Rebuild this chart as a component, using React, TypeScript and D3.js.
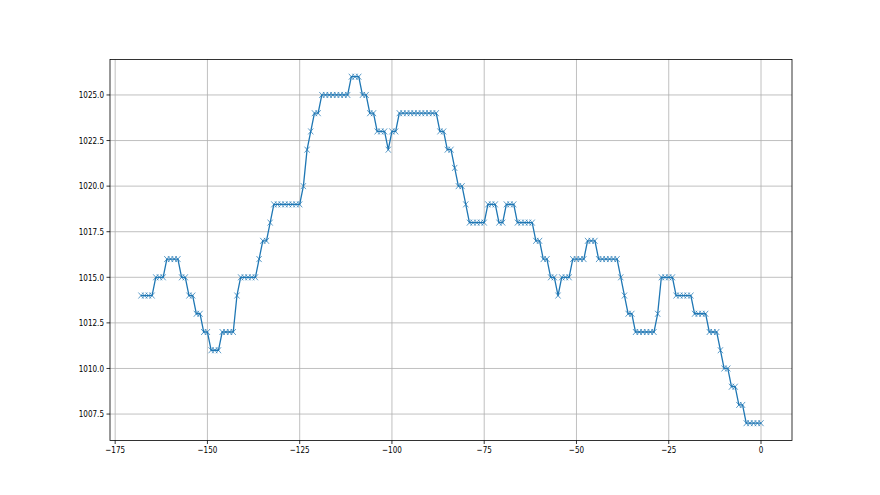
import React from 'react';
import * as d3 from 'd3';

// minutes offset (x) and pressure reading (y)
const xValues = [
  -168, -167, -166, -165, -164, -163, -162, -161, -160, -159, -158, -157, -156, -155, -154, -153, -152,
  -151, -150, -149, -148, -147, -146, -145, -144, -143, -142, -141, -140, -139, -138, -137, -136, -135,
  -134, -133, -132, -131, -130, -129, -128, -127, -126, -125, -124, -123, -122, -121, -120, -119, -118,
  -117, -116, -115, -114, -113, -112, -111, -110, -109, -108, -107, -106, -105, -104, -103, -102, -101,
  -100, -99, -98, -97, -96, -95, -94, -93, -92, -91, -90, -89, -88, -87, -86, -85, -84, -83, -82, -81,
  -80, -79, -78, -77, -76, -75, -74, -73, -72, -71, -70, -69, -68, -67, -66, -65, -64, -63, -62, -61,
  -60, -59, -58, -57, -56, -55, -54, -53, -52, -51, -50, -49, -48, -47, -46, -45, -44, -43, -42, -41,
  -40, -39, -38, -37, -36, -35, -34, -33, -32, -31, -30, -29, -28, -27, -26, -25, -24, -23, -22, -21,
  -20, -19, -18, -17, -16, -15, -14, -13, -12, -11, -10, -9, -8, -7, -6, -5, -4, -3, -2, -1, 0,
];

const yValues = [
  1014, 1014, 1014, 1014, 1015, 1015, 1015, 1016, 1016, 1016, 1016, 1015, 1015, 1014, 1014, 1013, 1013,
  1012, 1012, 1011, 1011, 1011, 1012, 1012, 1012, 1012, 1014, 1015, 1015, 1015, 1015, 1015, 1016, 1017,
  1017, 1018, 1019, 1019, 1019, 1019, 1019, 1019, 1019, 1019, 1020, 1022, 1023, 1024, 1024, 1025, 1025,
  1025, 1025, 1025, 1025, 1025, 1025, 1026, 1026, 1026, 1025, 1025, 1024, 1024, 1023, 1023, 1023, 1022,
  1023, 1023, 1024, 1024, 1024, 1024, 1024, 1024, 1024, 1024, 1024, 1024, 1024, 1023, 1023, 1022, 1022,
  1021, 1020, 1020, 1019, 1018, 1018, 1018, 1018, 1018, 1019, 1019, 1019, 1018, 1018, 1019, 1019, 1019,
  1018, 1018, 1018, 1018, 1018, 1017, 1017, 1016, 1016, 1015, 1015, 1014, 1015, 1015, 1015, 1016, 1016,
  1016, 1016, 1017, 1017, 1017, 1016, 1016, 1016, 1016, 1016, 1016, 1015, 1014, 1013, 1013, 1012, 1012,
  1012, 1012, 1012, 1012, 1013, 1015, 1015, 1015, 1015, 1014, 1014, 1014, 1014, 1014, 1013, 1013, 1013,
  1013, 1012, 1012, 1012, 1011, 1010, 1010, 1009, 1009, 1008, 1008, 1007, 1007, 1007, 1007, 1007,
];

const xTicks = [-175, -150, -125, -100, -75, -50, -25, 0];
const yTicks = [1007.5, 1010, 1012.5, 1015, 1017.5, 1020, 1022.5, 1025];

const W = 880;
const H = 495;
const plot = { left: 110, right: 792, top: 59.4, bottom: 440.5 };
const LINE = '#1f77b4';
// the picture is squeezed sideways, so the tick text is narrower than it is tall
const squeeze = 0.76;

const fmtX = (v: number) => (v < 0 ? '\u2212' + Math.abs(v) : String(v));

export default function App() {
  const x = d3.scaleLinear().domain([-176.4, 8.4]).range([plot.left, plot.right]);
  const y = d3.scaleLinear().domain([1006.05, 1026.95]).range([plot.bottom, plot.top]);

  const pts = xValues.map((v, i) => [v, yValues[i]] as [number, number]);
  const line = d3
    .line<[number, number]>()
    .x(d => x(d[0]))
    .y(d => y(d[1]));

  const font = '"DejaVu Sans", sans-serif';

  return (
    <svg
      width={W}
      height={H}
      style={{ position: 'absolute', left: 0, top: 0, background: '#fff' }}
      fontFamily={font}
    >
      <rect x={0} y={0} width={W} height={H} fill="#fff" />

      {/* grid */}
      {xTicks.map(t => (
        <line key={'gx' + t} x1={x(t)} x2={x(t)} y1={plot.top} y2={plot.bottom} stroke="#b0b0b0" strokeWidth={0.8} />
      ))}
      {yTicks.map(t => (
        <line key={'gy' + t} x1={plot.left} x2={plot.right} y1={y(t)} y2={y(t)} stroke="#b0b0b0" strokeWidth={0.8} />
      ))}

      {/* series */}
      <path d={line(pts) || ''} fill="none" stroke={LINE} strokeWidth={1.3} strokeLinejoin="round" />
      {pts.map((d, i) => {
        const cx = x(d[0]);
        const cy = y(d[1]);
        const rx = 2.6;
        const ry = 3;
        return (
          <path
            key={'m' + i}
            d={`M${cx - rx},${cy - ry}L${cx + rx},${cy + ry}M${cx - rx},${cy + ry}L${cx + rx},${cy - ry}`}
            stroke={LINE}
            strokeOpacity={0.8}
            strokeWidth={0.9}
            fill="none"
          />
        );
      })}

      {/* spines */}
      <rect
        x={plot.left}
        y={plot.top}
        width={plot.right - plot.left}
        height={plot.bottom - plot.top}
        fill="none"
        stroke="#000"
        strokeWidth={0.8}
      />

      {/* x ticks */}
      {xTicks.map(t => (
        <g key={'tx' + t}>
          <line x1={x(t)} x2={x(t)} y1={plot.bottom} y2={plot.bottom + 3.5} stroke="#000" strokeWidth={0.8} />
          <text
            transform={`translate(${x(t)},${plot.bottom + 12.5}) scale(${squeeze},1)`}
            textAnchor="middle"
            fontSize={9.5}
            fill="#000"
          >
            {fmtX(t)}
          </text>
        </g>
      ))}

      {/* y ticks */}
      {yTicks.map(t => (
        <g key={'ty' + t}>
          <line x1={plot.left - 3.5} x2={plot.left} y1={y(t)} y2={y(t)} stroke="#000" strokeWidth={0.8} />
          <text
            transform={`translate(${plot.left - 6},${y(t)}) scale(${squeeze},1)`}
            dy="0.35em"
            textAnchor="end"
            fontSize={9.5}
            fill="#000"
          >
            {t.toFixed(1)}
          </text>
        </g>
      ))}
    </svg>
  );
}
